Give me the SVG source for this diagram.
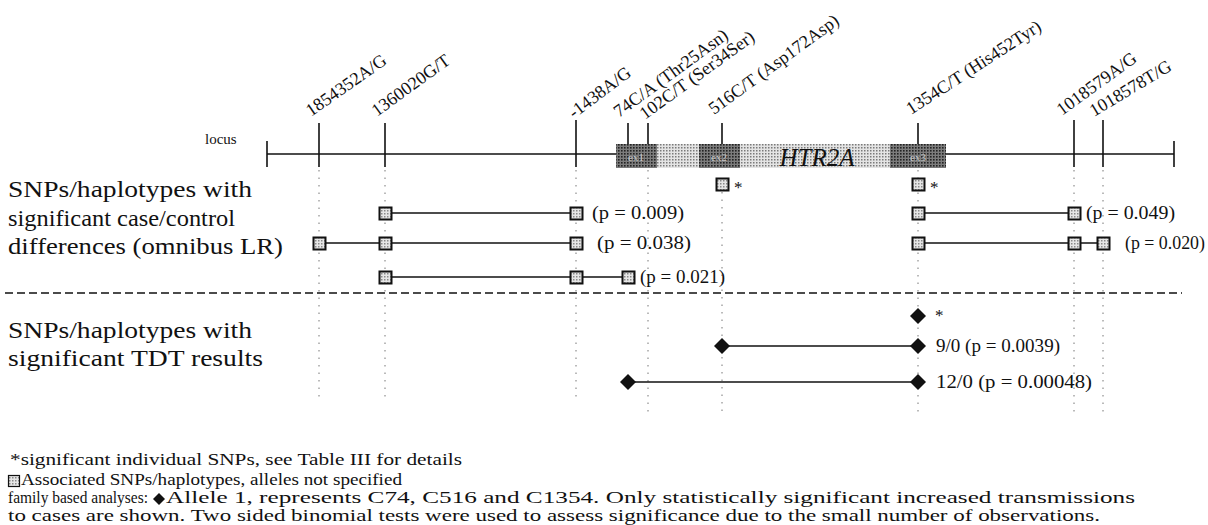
<svg xmlns="http://www.w3.org/2000/svg" width="1208" height="525" viewBox="0 0 1208 525">
<style>
text{font-family:"Liberation Serif","Times New Roman",serif;fill:#111}
.lbl{font-size:18px}
.big{font-size:24px}
.p{font-size:18px}
.fn{font-size:16.5px}
.axis{stroke:#111;stroke-width:1.6;fill:none}
.tick{stroke:#111;stroke-width:1.6}
.dot{stroke:#777;stroke-width:1;stroke-dasharray:1.5 6}
.conn{stroke:#111;stroke-width:1.6}
.sq{fill:url(#lite);stroke:#111;stroke-width:2}
.dia{fill:#111}
</style>
<defs>
<pattern id="lite" width="3" height="3" patternUnits="userSpaceOnUse">
<rect width="3" height="3" fill="#e6e6e6"/><rect width="1.5" height="1.5" fill="#8a8a8a"/>
</pattern>
<pattern id="bar" width="3" height="3" patternUnits="userSpaceOnUse">
<rect width="3" height="3" fill="#e4e4e4"/><rect width="1.5" height="1.5" fill="#7a7a7a"/>
</pattern>
<pattern id="exon" width="3" height="3" patternUnits="userSpaceOnUse">
<rect width="3" height="3" fill="#7c7c7c"/><rect width="1.6" height="1.6" fill="#222"/>
</pattern>
</defs>
<rect width="1208" height="525" fill="#fff"/>

<g id="axis">
<line class="axis" x1="267" y1="154" x2="1174" y2="154"/>
<line class="tick" x1="267" y1="141" x2="267" y2="167"/>
<line class="tick" x1="1174" y1="141" x2="1174" y2="167"/>
<text x="205" y="144" font-size="15">locus</text>
</g>

<g id="gene">
<rect x="616" y="144" width="330" height="24" fill="url(#bar)"/>
<rect x="616" y="144" width="41" height="24" fill="url(#exon)"/>
<rect x="699" y="144" width="41" height="24" fill="url(#exon)"/>
<rect x="890" y="144" width="56" height="24" fill="url(#exon)"/>
<text x="636" y="161" font-size="11" text-anchor="middle" style="fill:#c8c8c8">ex1</text>
<text x="719" y="161" font-size="11" text-anchor="middle" style="fill:#c8c8c8">ex2</text>
<text x="918" y="161" font-size="11" text-anchor="middle" style="fill:#c8c8c8">ex3</text>
<text x="817" y="166" font-size="25" font-style="italic" text-anchor="middle">HTR2A</text>
</g>

<g id="snp-ticks">
<line class="tick" x1="319" y1="123" x2="319" y2="167"/>
<line class="tick" x1="385" y1="123" x2="385" y2="167"/>
<line class="tick" x1="576" y1="120" x2="576" y2="167"/>
<line class="tick" x1="628" y1="123" x2="628" y2="144"/>
<line class="tick" x1="648" y1="123" x2="648" y2="144"/>
<line class="tick" x1="722" y1="123" x2="722" y2="144"/>
<line class="tick" x1="918" y1="123" x2="918" y2="144"/>
<line class="tick" x1="1074" y1="120" x2="1074" y2="167"/>
<line class="tick" x1="1103" y1="120" x2="1103" y2="167"/>
</g>

<g id="snp-labels" class="lbl">
<text transform="translate(311,117) rotate(-35)">1854352A/G</text>
<text transform="translate(377,117) rotate(-36)">1360020G/T</text>
<text transform="translate(574,119) rotate(-37)">-1438A/G</text>
<text transform="translate(619,118) rotate(-36)">74C/A (Thr25Asn)</text>
<text transform="translate(645,120) rotate(-36)">102C/T (Ser34Ser)</text>
<text transform="translate(714,115) rotate(-36)">516C/T (Asp172Asp)</text>
<text transform="translate(911,115) rotate(-33)">1354C/T (His452Tyr)</text>
<text transform="translate(1062,116) rotate(-36)">1018579A/G</text>
<text transform="translate(1094,117) rotate(-31)">1018578T/G</text>
</g>

<g id="guides">
<line class="dot" x1="319" y1="170" x2="319" y2="402"/>
<line class="dot" x1="385" y1="170" x2="385" y2="402"/>
<line class="dot" x1="576" y1="170" x2="576" y2="402"/>
<line class="dot" x1="648" y1="170" x2="648" y2="412"/>
<line class="dot" x1="722" y1="192" x2="722" y2="412"/>
<line class="dot" x1="918" y1="170" x2="918" y2="412"/>
<line class="dot" x1="1074" y1="170" x2="1074" y2="412"/>
<line class="dot" x1="1103" y1="170" x2="1103" y2="412"/>
</g>

<g id="section-labels" class="big">
<text x="8" y="197" textLength="244" lengthAdjust="spacingAndGlyphs">SNPs/haplotypes with</text>
<text x="8" y="226" textLength="227" lengthAdjust="spacingAndGlyphs">significant case/control</text>
<text x="8" y="254" textLength="275" lengthAdjust="spacingAndGlyphs">differences (omnibus LR)</text>
<text x="8" y="338" textLength="244" lengthAdjust="spacingAndGlyphs">SNPs/haplotypes with</text>
<text x="8" y="366" textLength="255" lengthAdjust="spacingAndGlyphs">significant TDT results</text>
</g>

<line id="divider" x1="5" y1="293" x2="1182" y2="293" stroke="#111" stroke-width="1.6" stroke-dasharray="8 4"/>

<g id="connectors">
<line class="conn" x1="385" y1="213" x2="576" y2="213"/>
<line class="conn" x1="918" y1="213" x2="1074" y2="213"/>
<line class="conn" x1="319" y1="243" x2="576" y2="243"/>
<line class="conn" x1="918" y1="243" x2="1103" y2="243"/>
<line class="conn" x1="385" y1="277" x2="628" y2="277"/>
<line class="conn" x1="722" y1="346" x2="918" y2="346"/>
<line class="conn" x1="628" y1="382" x2="918" y2="382"/>
</g>

<g id="case-control">
<g id="sq-516"><rect class="sq" x="716.5" y="178.5" width="12" height="12"/><text x="734" y="193" font-size="17">*</text></g>
<g id="sq-1354"><rect class="sq" x="912.5" y="178.5" width="12" height="12"/><text x="930" y="193" font-size="17">*</text></g>
<g id="hap-1">
<rect class="sq" x="379.5" y="207.5" width="12" height="12"/>
<rect class="sq" x="570.5" y="207.5" width="12" height="12"/>
<text class="p" x="592" y="219" textLength="92" lengthAdjust="spacingAndGlyphs">(p = 0.009)</text>
</g>
<g id="hap-2">
<rect class="sq" x="912.5" y="207.5" width="12" height="12"/>
<rect class="sq" x="1068.5" y="207.5" width="12" height="12"/>
<text class="p" x="1086" y="219" textLength="89" lengthAdjust="spacingAndGlyphs">(p = 0.049)</text>
</g>
<g id="hap-3">
<rect class="sq" x="313.5" y="237.5" width="12" height="12"/>
<rect class="sq" x="379.5" y="237.5" width="12" height="12"/>
<rect class="sq" x="570.5" y="237.5" width="12" height="12"/>
<text class="p" x="597" y="249" textLength="94" lengthAdjust="spacingAndGlyphs">(p = 0.038)</text>
</g>
<g id="hap-4">
<rect class="sq" x="912.5" y="237.5" width="12" height="12"/>
<rect class="sq" x="1068.5" y="237.5" width="12" height="12"/>
<rect class="sq" x="1097.5" y="237.5" width="12" height="12"/>
<text class="p" x="1125" y="249" textLength="80" lengthAdjust="spacingAndGlyphs">(p = 0.020)</text>
</g>
<g id="hap-5">
<rect class="sq" x="379.5" y="271.5" width="12" height="12"/>
<rect class="sq" x="570.5" y="271.5" width="12" height="12"/>
<rect class="sq" x="622.5" y="271.5" width="12" height="12"/>
<text class="p" x="640" y="283" textLength="85" lengthAdjust="spacingAndGlyphs">(p = 0.021)</text>
</g>
</g>

<g id="tdt">
<g id="dia-1354"><polygon class="dia" points="918,308 926,316 918,324 910,316"/><text x="935" y="321" font-size="17">*</text></g>
<g id="tdt-1">
<polygon class="dia" points="722,338 730,346 722,354 714,346"/>
<polygon class="dia" points="918,338 926,346 918,354 910,346"/>
<text class="p" x="936" y="352" textLength="124" lengthAdjust="spacingAndGlyphs">9/0 (p = 0.0039)</text>
</g>
<g id="tdt-2">
<polygon class="dia" points="628,374 636,382 628,390 620,382"/>
<polygon class="dia" points="918,374 926,382 918,390 910,382"/>
<text class="p" x="936" y="388" textLength="156" lengthAdjust="spacingAndGlyphs">12/0 (p = 0.00048)</text>
</g>
</g>

<g id="footnotes" class="fn">
<text x="10" y="465" textLength="452" lengthAdjust="spacingAndGlyphs">*significant individual SNPs, see Table III for details</text>
<rect x="8.5" y="475.5" width="11" height="11" fill="url(#lite)" stroke="#111" stroke-width="1.2"/>
<text x="21" y="485" textLength="381" lengthAdjust="spacingAndGlyphs">Associated SNPs/haplotypes, alleles not specified</text>
<text x="8" y="503" textLength="140" lengthAdjust="spacingAndGlyphs">family based analyses:</text>
<polygon points="159,493 165,499 159,505 153,499" fill="#111"/>
<text x="166" y="503" textLength="969" lengthAdjust="spacingAndGlyphs">Allele 1,  represents C74, C516 and C1354.  Only statistically significant increased transmissions</text>
<text x="8" y="521" textLength="1092" lengthAdjust="spacingAndGlyphs">to cases are shown. Two sided binomial tests were used to assess significance due to the small number of observations.</text>
</g>
</svg>
